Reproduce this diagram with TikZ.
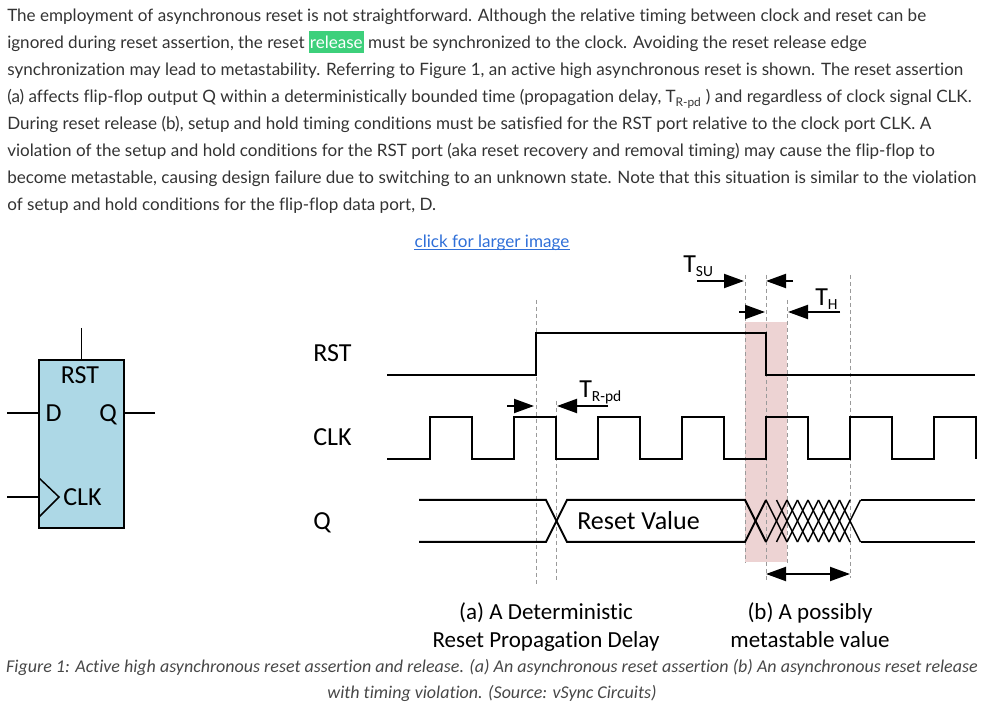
\documentclass[tikz,border=0pt]{standalone}
\usepackage{fontspec}
\setmainfont{Lato}[Ligatures=NoCommon]
\newfontfamily\figfont{Carlito}[Ligatures=NoCommon]
\usetikzlibrary{arrows.meta,positioning,calc}

\definecolor{bodygray}{HTML}{333333}
\definecolor{linkblue}{HTML}{2F6FD8}
\definecolor{hlgreen}{HTML}{3DD07B}
\definecolor{capgray}{HTML}{474747}
\definecolor{ffblue}{HTML}{ADD8E6}
\definecolor{guidegray}{HTML}{9A9A9A}
\definecolor{windowpink}{HTML}{EDD3D3}

\newcommand{\hlword}[1]{{\setlength{\fboxsep}{0.75pt}\colorbox{hlgreen}{\vrule height 12.75pt depth 2.25pt width 0pt\textcolor{white}{#1}}}}
\newcommand{\tsub}[2]{#1{\fontsize{11.6}{12}\selectfont\raisebox{-3pt}{#2}}}

\tikzset{
  bodytext/.style={anchor=base west, inner sep=0pt, text=bodygray, font=\fontsize{12.8}{20}\selectfont},
  captext/.style={anchor=base, inner sep=0pt, text=capgray, font=\figfont\itshape\fontsize{13.5}{20}\selectfont},
  figtext/.style={anchor=base west, inner sep=0pt, font=\figfont\fontsize{19.5}{22}\selectfont},
  subtext/.style={anchor=base, inner sep=0pt, font=\figfont\fontsize{17.25}{21}\selectfont},
  wave/.style={line width=1.5pt, line join=miter},
  hatch/.style={line width=1.1pt},
  guide/.style={guidegray, line width=0.75pt, dash pattern=on 3pt off 2.25pt},
  pin/.style={line width=1.1pt},
  tarrow/.style={line width=1.5pt, -{Triangle[length=15pt, width=10.5pt]}},
}

\begin{document}
\begin{tikzpicture}[x=0.75pt, y=-0.75pt]
  \useasboundingbox (0,0) rectangle (993,712);

  % article text
  \foreach \txt [count=\i] in {
    {The employment of asynchronous reset is not straightforward. Although the relative timing between clock and reset can be},
    {ignored during reset assertion, the reset \hlword{release} must be synchronized to the clock. Avoiding the reset release edge},
    {synchronization may lead to metastability. Referring to Figure 1, an active high asynchronous reset is shown. The reset assertion},
    {(a) affects flip-flop output Q within a deterministically bounded time (propagation delay, T\textsubscript{R-pd}\ ) and regardless of clock signal CLK.},
    {During reset release (b), setup and hold timing conditions must be satisfied for the RST port relative to the clock port CLK. A},
    {violation of the setup and hold conditions for the RST port (aka reset recovery and removal timing) may cause the flip-flop to},
    {become metastable, causing design failure due to switching to an unknown state. Note that this situation is similar to the violation},
    {of setup and hold conditions for the flip-flop data port, D.}}
    \node[bodytext] (line\i) at (7, 22+27*\i-27) {\txt};

  \node[anchor=base, inner sep=0pt, text=linkblue, font=\fontsize{12.8}{14}\selectfont] (link) at (492,248) {click for larger image};
  \draw[linkblue, line width=0.75pt] ([yshift=-1.5pt]link.base west) -- ([yshift=-1.5pt]link.base east);

  % flip-flop symbol
  \node[draw, line width=2pt, fill=ffblue, minimum width=63.75pt, minimum height=126pt, inner sep=0pt] (ff) at (81.5,444) {};
  \coordinate (rstpin) at (81.5,328);
  \coordinate (dpin) at (7,413);
  \coordinate (qpin) at (155,413);
  \coordinate (clkpin) at (7,497);
  \draw[pin] (rstpin) -- (ff.north);
  \draw[pin] (dpin) -- (dpin -| ff.west);
  \draw[pin] (qpin) -- (qpin -| ff.east);
  \draw[pin] (clkpin) -- (clkpin -| ff.west);
  \draw[pin] (39,478) -- (59,497) -- (39,517);
  \node[figtext, anchor=base] (ffrst) at (80,384) {RST};
  \node[figtext, anchor=base] (ffd) at (53.5,422) {D};
  \node[figtext, anchor=base] (ffq) at (108,422) {Q};
  \node[figtext] (ffclk) at (63,506) {CLK};

  % signal names
  \node[figtext] (rstname) at (313,361.5) {RST};
  \node[figtext] (clkname) at (313,446) {CLK};
  \node[figtext] (qname) at (313,530) {Q};

  % release window and guides
  \fill[windowpink] (745,322) rectangle (787,562);
  \draw[guide] (536,300) -- (536,584);
  \draw[guide] (556,401) -- (556,580);
  \draw[guide] (745,275) -- (745,563);
  \draw[guide] (766,275) -- (766,580);
  \draw[guide] (787,300) -- (787,563);
  \draw[guide] (850,275) -- (850,578);

  % waveforms
  \draw[wave] (387,375) -- (536,375) -- (536,333) -- (766,333) -- (766,375) -- (975,375);
  \draw[wave] (387,459) \foreach \k in {0,...,6} { -- (430+84*\k,459) -- (430+84*\k,417) -- (472+84*\k,417) -- (472+84*\k,459) };
  \draw[wave] (419,500) -- (546,500) -- (567,542) -- (745,542) -- (766,500);
  \draw[wave] (419,542) -- (546,542) -- (567,500) -- (745,500) -- (766,542);
  \foreach \t in {766,776.5,...,840} {
    \draw[hatch] (\t,500) -- (\t+21,542);
    \draw[hatch] (\t,542) -- (\t+21,500);
  }
  \draw[wave] (860.5,500) -- (975,500);
  \draw[wave] (860.5,542) -- (975,542);
  \node[figtext] (resetval) at (577,530) {Reset Value};

  % timing marks
  \node[figtext] (tsu) at (683,273) {\tsub{T}{SU}};
  \draw[tarrow] (697,281) -- (744,281);
  \draw[tarrow] (793,281) -- (766,281);
  \node[figtext] (th) at (815,306) {\tsub{T}{H}};
  \draw[tarrow] (739,312) -- (765,312);
  \draw[tarrow] (840,312) -- (788,312);
  \node[figtext] (trpd) at (579,398) {\tsub{T}{R-pd}};
  \draw[tarrow] (507,406) -- (534,406);
  \draw[tarrow] (608,406) -- (557,406);
  \draw[line width=1.5pt, {Triangle[length=15pt, width=10.5pt]}-{Triangle[length=15pt, width=10.5pt]}] (766,574) -- (850,574);

  \node[subtext] (casea) at (546,619.5) {(a) A Deterministic};
  \node[subtext] (caseb) at (546,647.5) {Reset Propagation Delay};
  \node[subtext] (casec) at (810,619.5) {(b) A possibly};
  \node[subtext] (cased) at (810,647.5) {metastable value};

  % caption
  \node[captext] (cap1) at (492,672) {Figure 1: Active high asynchronous reset assertion and release. (a) An asynchronous reset assertion (b) An asynchronous reset release};
  \node[captext] (cap2) at (492,699) {with timing violation. (Source: vSync Circuits)};
\end{tikzpicture}
\end{document}
